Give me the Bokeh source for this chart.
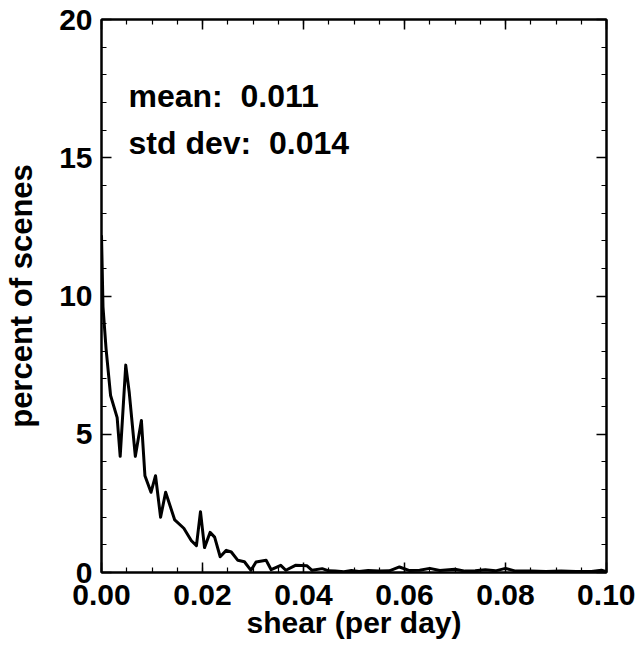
from bokeh.plotting import figure
from bokeh.models import (Range1d, LinearAxis, FixedTicker, NumeralTickFormatter,
                          CustomJSTickFormatter, Label)
from bokeh.embed import file_html
from bokeh.resources import INLINE

# ---- data ----
shear = [0.0000, 0.0003, 0.0009, 0.0018, 0.0031, 0.0037, 0.0048, 0.0055, 0.0067,
         0.0079, 0.0086, 0.0098, 0.0107, 0.0117, 0.0127, 0.0145, 0.0163, 0.0178,
         0.0188, 0.0196, 0.0204, 0.0215, 0.0224, 0.0235, 0.0247, 0.0257, 0.0270,
         0.0283, 0.0296, 0.0306, 0.0326, 0.0336, 0.0355, 0.0365, 0.0384, 0.0407,
         0.0417, 0.0437, 0.0450, 0.0463, 0.0480, 0.0495, 0.0510, 0.0528, 0.0550,
         0.0570, 0.0590, 0.0610, 0.0630, 0.0650, 0.0670, 0.0700, 0.0720, 0.0740,
         0.0760, 0.0780, 0.0800, 0.0820, 0.0850, 0.0880, 0.0910, 0.0940, 0.0970,
         0.0990, 0.1000]
percent = [12.2, 9.6, 8.1, 6.4, 5.6, 4.2, 7.5, 6.5, 4.2,
           5.5, 3.5, 2.9, 3.5, 2.0, 2.9, 1.9, 1.6, 1.15,
           0.97, 2.2, 0.9, 1.45, 1.28, 0.57, 0.8, 0.74, 0.44,
           0.39, 0.08, 0.38, 0.44, 0.10, 0.26, 0.08, 0.26, 0.24,
           0.08, 0.14, 0.06, 0.05, 0.03, 0.07, 0.04, 0.07, 0.05,
           0.06, 0.20, 0.07, 0.08, 0.15, 0.07, 0.12, 0.05, 0.06,
           0.10, 0.06, 0.15, 0.05, 0.05, 0.04, 0.05, 0.04, 0.04,
           0.08, 0.03]

x_ticks = [0.00, 0.02, 0.04, 0.06, 0.08, 0.10]
x_minor = [0.000, 0.005, 0.010, 0.015, 0.020, 0.025, 0.030, 0.035, 0.040, 0.045,
           0.050, 0.055, 0.060, 0.065, 0.070, 0.075, 0.080, 0.085, 0.090, 0.095, 0.100]
y_ticks = [0, 5, 10, 15, 20]
y_minor = [0, 1, 2, 3, 4, 5, 6, 7, 8, 9, 10, 11, 12, 13, 14, 15, 16, 17, 18, 19, 20]
stat_texts = ["mean:\u00a0 0.011", "std dev:\u00a0 0.014"]

FONT = "Liberation Sans"

p = figure(width=635, height=645, output_backend="svg", toolbar_location=None,
           x_range=Range1d(0.0, 0.1), y_range=Range1d(0, 20),
           min_border_left=101, min_border_right=29, min_border_top=19, min_border_bottom=73,
           x_axis_location=None, y_axis_location=None)
p.grid.visible = False
p.outline_line_color = "black"
p.outline_line_width = 2
p.background_fill_color = "white"
p.border_fill_color = "white"

xt = FixedTicker(ticks=x_ticks, minor_ticks=x_minor)
yt = FixedTicker(ticks=y_ticks, minor_ticks=y_minor)
blank = CustomJSTickFormatter(code="return ''")


def style(ax):
    ax.axis_line_color = "black"
    ax.axis_line_width = 2
    ax.major_tick_in = 10
    ax.major_tick_out = 0
    ax.minor_tick_in = 5
    ax.minor_tick_out = 0
    ax.major_tick_line_width = 1.5
    ax.minor_tick_line_width = 1.2
    ax.major_tick_line_color = "black"
    ax.minor_tick_line_color = "black"


# bottom axis
xb = LinearAxis(ticker=xt, formatter=NumeralTickFormatter(format="0.00"),
                axis_label="shear (per day)")
style(xb)
xb.major_label_text_font = FONT
xb.major_label_text_font_style = "bold"
xb.major_label_text_font_size = "30px"
xb.major_label_text_color = "black"
xb.major_label_standoff = 12
xb.axis_label_text_font = FONT
xb.axis_label_text_font_style = "bold"
xb.axis_label_text_font_size = "30px"
xb.axis_label_text_color = "black"
xb.axis_label_standoff = -2
p.add_layout(xb, "below")

# left axis
yl = LinearAxis(ticker=yt, formatter=NumeralTickFormatter(format="0"),
                axis_label="percent of scenes")
style(yl)
yl.major_label_text_font = FONT
yl.major_label_text_font_style = "bold"
yl.major_label_text_font_size = "30px"
yl.major_label_text_color = "black"
yl.major_label_standoff = 9
yl.axis_label_text_font = FONT
yl.axis_label_text_font_style = "bold"
yl.axis_label_text_font_size = "31px"
yl.axis_label_text_color = "black"
yl.axis_label_standoff = 17
p.add_layout(yl, "left")

# top and right axes: ticks only
xa = LinearAxis(ticker=xt, formatter=blank)
style(xa)
xa.major_label_text_font_size = "0px"
xa.major_label_standoff = 0
p.add_layout(xa, "above")

yr = LinearAxis(ticker=yt, formatter=blank)
style(yr)
yr.major_label_text_font_size = "0px"
yr.major_label_standoff = 0
p.add_layout(yr, "right")

# statistics text
stat_x = 0.00535
stat_y = [17.25, 15.52]
for s, yy in zip(stat_texts, stat_y):
    p.add_layout(Label(x=stat_x, y=yy, text=s, text_align="left",
                       text_baseline="alphabetic", text_font=FONT,
                       text_font_style="bold", text_font_size="32px",
                       text_color="black"))

p.line(shear, percent, line_color="black", line_width=3, line_join="round")

open("out.html", "w").write(file_html(p, INLINE))
